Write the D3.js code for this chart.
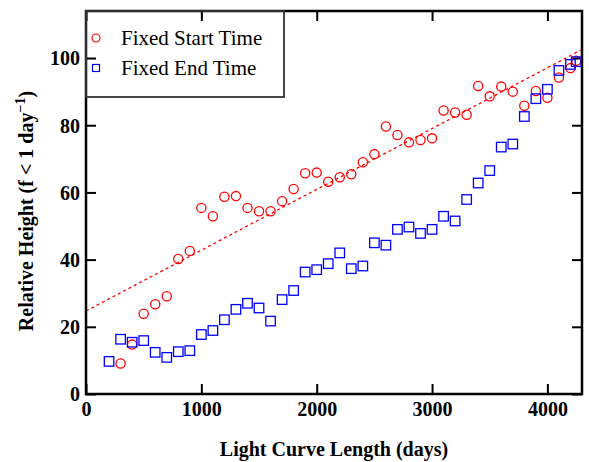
<!DOCTYPE html>
<html>
<head>
<meta charset="utf-8">
<script src="https://cdn.jsdelivr.net/npm/d3@7"></script>
<style>
  body { margin: 0; background: #fff; }
  text { font-family: "Liberation Serif", "Times New Roman", serif; }
</style>
</head>
<body>
<div id="chart"></div>
<script>
// light curve lengths (days)
var startLengths = [300, 400, 500, 600, 700, 800, 900, 1000, 1100, 1200, 1300, 1400, 1500, 1600, 1700,
  1800, 1900, 2000, 2100, 2200, 2300, 2400, 2500, 2600, 2700, 2800, 2900, 3000, 3100, 3200, 3300,
  3400, 3500, 3600, 3700, 3800, 3900, 4000, 4100, 4200, 4250];
var startHeights = [9.1, 14.7, 23.9, 26.7, 29.1, 40.2, 42.6, 55.4, 52.9, 58.7, 58.9, 55.4, 54.4, 54.4, 57.4,
  61.0, 65.7, 65.9, 63.2, 64.5, 65.4, 69.0, 71.4, 79.6, 77.1, 74.9, 75.6, 76.1, 84.4, 83.8, 83.1,
  91.7, 88.6, 91.5, 90.0, 85.8, 90.2, 88.2, 94.2, 97.0, 99.2];

var endLengths = [200, 300, 400, 500, 600, 700, 800, 900, 1000, 1100, 1200, 1300, 1400, 1500, 1600, 1700,
  1800, 1900, 2000, 2100, 2200, 2300, 2400, 2500, 2600, 2700, 2800, 2900, 3000, 3100, 3200, 3300,
  3400, 3500, 3600, 3700, 3800, 3900, 4000, 4100, 4200, 4250];
var endHeights = [9.7, 16.3, 15.4, 15.9, 12.4, 10.9, 12.6, 12.9, 17.7, 18.9, 22.1, 25.2, 27.0, 25.6, 21.7, 28.1,
  30.8, 36.3, 37.0, 38.8, 42.0, 37.3, 38.1, 45.0, 44.3, 49.0, 49.7, 47.8, 49.0, 52.9, 51.5, 57.9,
  62.8, 66.5, 73.5, 74.4, 82.6, 87.9, 90.7, 96.3, 98.1, 98.9];

// linear fit to the fixed start time points
var fitIntercept = 24.7, fitSlope = 0.0181;

var xTicks = [0, 1000, 2000, 3000, 4000];
var yTicks = [0, 20, 40, 60, 80, 100];

var W = 589, H = 462;
var margin = {top: 11, right: 7, bottom: 68, left: 86},
    width = W - margin.left - margin.right,
    height = H - margin.top - margin.bottom;

var svg = d3.select("#chart").append("svg")
    .attr("width", W).attr("height", H)
  .append("g")
    .attr("transform", "translate(" + margin.left + "," + margin.top + ")");

var x = d3.scaleLinear().domain([0, 4300]).range([0, width]);
var y = d3.scaleLinear().domain([0, 114]).range([height, 0]);

// fit line (dotted red)
svg.append("clipPath").attr("id", "clip")
  .append("rect").attr("width", width).attr("height", height);
svg.append("line")
    .attr("clip-path", "url(#clip)")
    .attr("x1", x(0)).attr("y1", y(fitIntercept))
    .attr("x2", x(4300)).attr("y2", y(fitIntercept + fitSlope * 4300))
    .style("stroke", "#ff0000")
    .style("stroke-width", 1.3)
    .style("stroke-dasharray", "3,3");

// axes, ticks inward
var tickLen = 10;
var bottomAxis = svg.append("g")
    .attr("transform", "translate(0," + height + ")")
    .call(d3.axisBottom(x).tickValues(xTicks).tickFormat(d3.format("d"))
      .tickSizeInner(-tickLen).tickSizeOuter(0).tickPadding(8));
var topAxis = svg.append("g")
    .call(d3.axisTop(x).tickValues(xTicks).tickSizeInner(-tickLen).tickSizeOuter(0).tickFormat(""));
var leftAxis = svg.append("g")
    .call(d3.axisLeft(y).tickValues(yTicks).tickSizeInner(-tickLen).tickSizeOuter(0).tickPadding(6));
var rightAxis = svg.append("g")
    .attr("transform", "translate(" + width + ",0)")
    .call(d3.axisRight(y).tickValues(yTicks).tickSizeInner(-tickLen).tickSizeOuter(0).tickFormat(""));

[bottomAxis, topAxis, leftAxis, rightAxis].forEach(function(a) {
  a.select(".domain").remove();
  a.selectAll(".tick line").style("stroke", "#000").style("stroke-width", 2);
  a.selectAll("text")
    .style("font-family", "'Liberation Serif', serif")
    .style("font-size", "20px")
    .style("font-weight", "bold")
    .style("fill", "#000");
});
leftAxis.selectAll("text").attr("x", -6).attr("dy", "0.34em");

// frame
svg.append("rect")
    .attr("width", width).attr("height", height)
    .style("fill", "none")
    .style("stroke", "#000")
    .style("stroke-width", 2.5);

// data points
svg.append("g").selectAll("circle")
    .data(startLengths)
    .enter().append("circle")
      .attr("cx", function(d) { return x(d); })
      .attr("cy", function(d, i) { return y(startHeights[i]); })
      .attr("r", 4.6)
      .style("fill", "none")
      .style("stroke", "#ff0000")
      .style("stroke-width", 1.3);

var sq = 9.5;
svg.append("g").selectAll("rect")
    .data(endLengths)
    .enter().append("rect")
      .attr("x", function(d) { return x(d) - sq / 2; })
      .attr("y", function(d, i) { return y(endHeights[i]) - sq / 2; })
      .attr("width", sq).attr("height", sq)
      .style("fill", "none")
      .style("stroke", "#0000ff")
      .style("stroke-width", 1.3);

// legend
var legend = svg.append("g");
legend.append("rect")
    .attr("x", 0).attr("y", 0)
    .attr("width", 198).attr("height", 86)
    .style("fill", "none")
    .style("stroke", "#333")
    .style("stroke-width", 1.8);
legend.append("circle")
    .attr("cx", 10).attr("cy", 27).attr("r", 4)
    .style("fill", "none").style("stroke", "#ff0000").style("stroke-width", 1.2);
legend.append("rect")
    .attr("x", 6.5).attr("y", 53.5).attr("width", 7).attr("height", 7)
    .style("fill", "none").style("stroke", "#0000ff").style("stroke-width", 1.2);
legend.append("text")
    .attr("x", 35).attr("y", 34)
    .style("font-size", "21px")
    .text("Fixed Start Time");
legend.append("text")
    .attr("x", 35).attr("y", 64)
    .style("font-size", "21px")
    .text("Fixed End Time");

// axis titles
svg.append("text")
    .attr("x", width / 2).attr("y", height + 62)
    .style("text-anchor", "middle")
    .style("font-size", "20px")
    .style("font-weight", "bold")
    .text("Light Curve Length (days)");

var ytitle = svg.append("text")
    .attr("transform", "translate(" + (-margin.left + 33) + "," + (211 - margin.top) + ") rotate(-90)")
    .style("text-anchor", "middle")
    .style("font-size", "20px")
    .style("font-weight", "bold");
ytitle.append("tspan").text("Relative Height (f < 1 day");
ytitle.append("tspan").attr("dy", -8).style("font-size", "14px").text("\u22121");
ytitle.append("tspan").attr("dy", 8).text(")");
</script>
</body>
</html>
